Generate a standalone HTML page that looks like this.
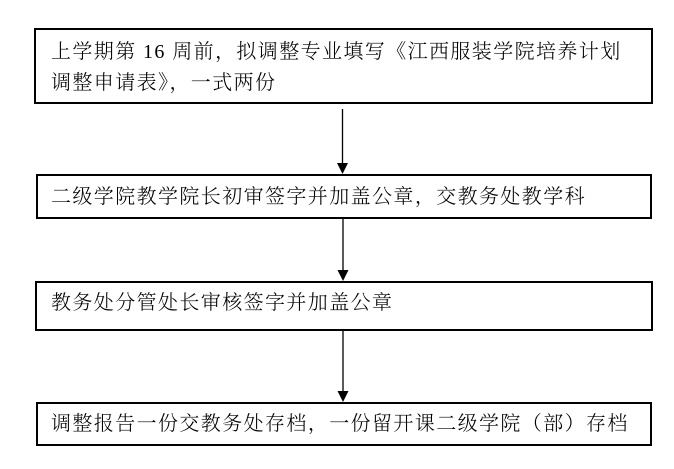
<!DOCTYPE html>
<html><head><meta charset="utf-8"><style>
body{margin:0;width:674px;height:469px;background:#fff;position:relative;overflow:hidden;font-family:"Liberation Serif","Noto Serif CJK SC",serif;font-size:20px;color:#000;font-weight:300}
.b{position:absolute;border:2px solid #000;box-sizing:border-box}
.t{position:absolute;left:51px;white-space:nowrap;letter-spacing:1.4px;line-height:20px}
</style></head><body>
<div class="b" style="left:34px;top:28px;width:619px;height:76px"></div>
<div class="t" style="top:42px">上学期第 16 周前，拟调整专业填写《江西服装学院培养计划</div>
<div class="t" style="top:73px">调整申请表》，一式两份</div>
<div class="b" style="left:36px;top:174px;width:616px;height:45px"></div>
<div class="t" style="top:187px">二级学院教学院长初审签字并加盖公章，交教务处教学科</div>
<div class="b" style="left:35px;top:281px;width:618px;height:50px"></div>
<div class="t" style="top:293px">教务处分管处长审核签字并加盖公章</div>
<div class="b" style="left:36px;top:402px;width:616px;height:44px"></div>
<div class="t" style="top:414px">调整报告一份交教务处存档，一份留开课二级学院（部）存档</div>
<svg width="674" height="469" style="position:absolute;left:0;top:0">
<g stroke="#000" stroke-width="1.3">
<line x1="342.5" y1="109" x2="342.5" y2="164"/>
<line x1="343" y1="219" x2="343" y2="271"/>
<line x1="343" y1="331" x2="343" y2="392"/>
</g>
<g fill="#000">
<polygon points="337,163 348,163 342.5,174"/>
<polygon points="337.5,270 348.5,270 343,281"/>
<polygon points="337.5,391 348.5,391 343,402"/>
</g>
</svg>
</body></html>
